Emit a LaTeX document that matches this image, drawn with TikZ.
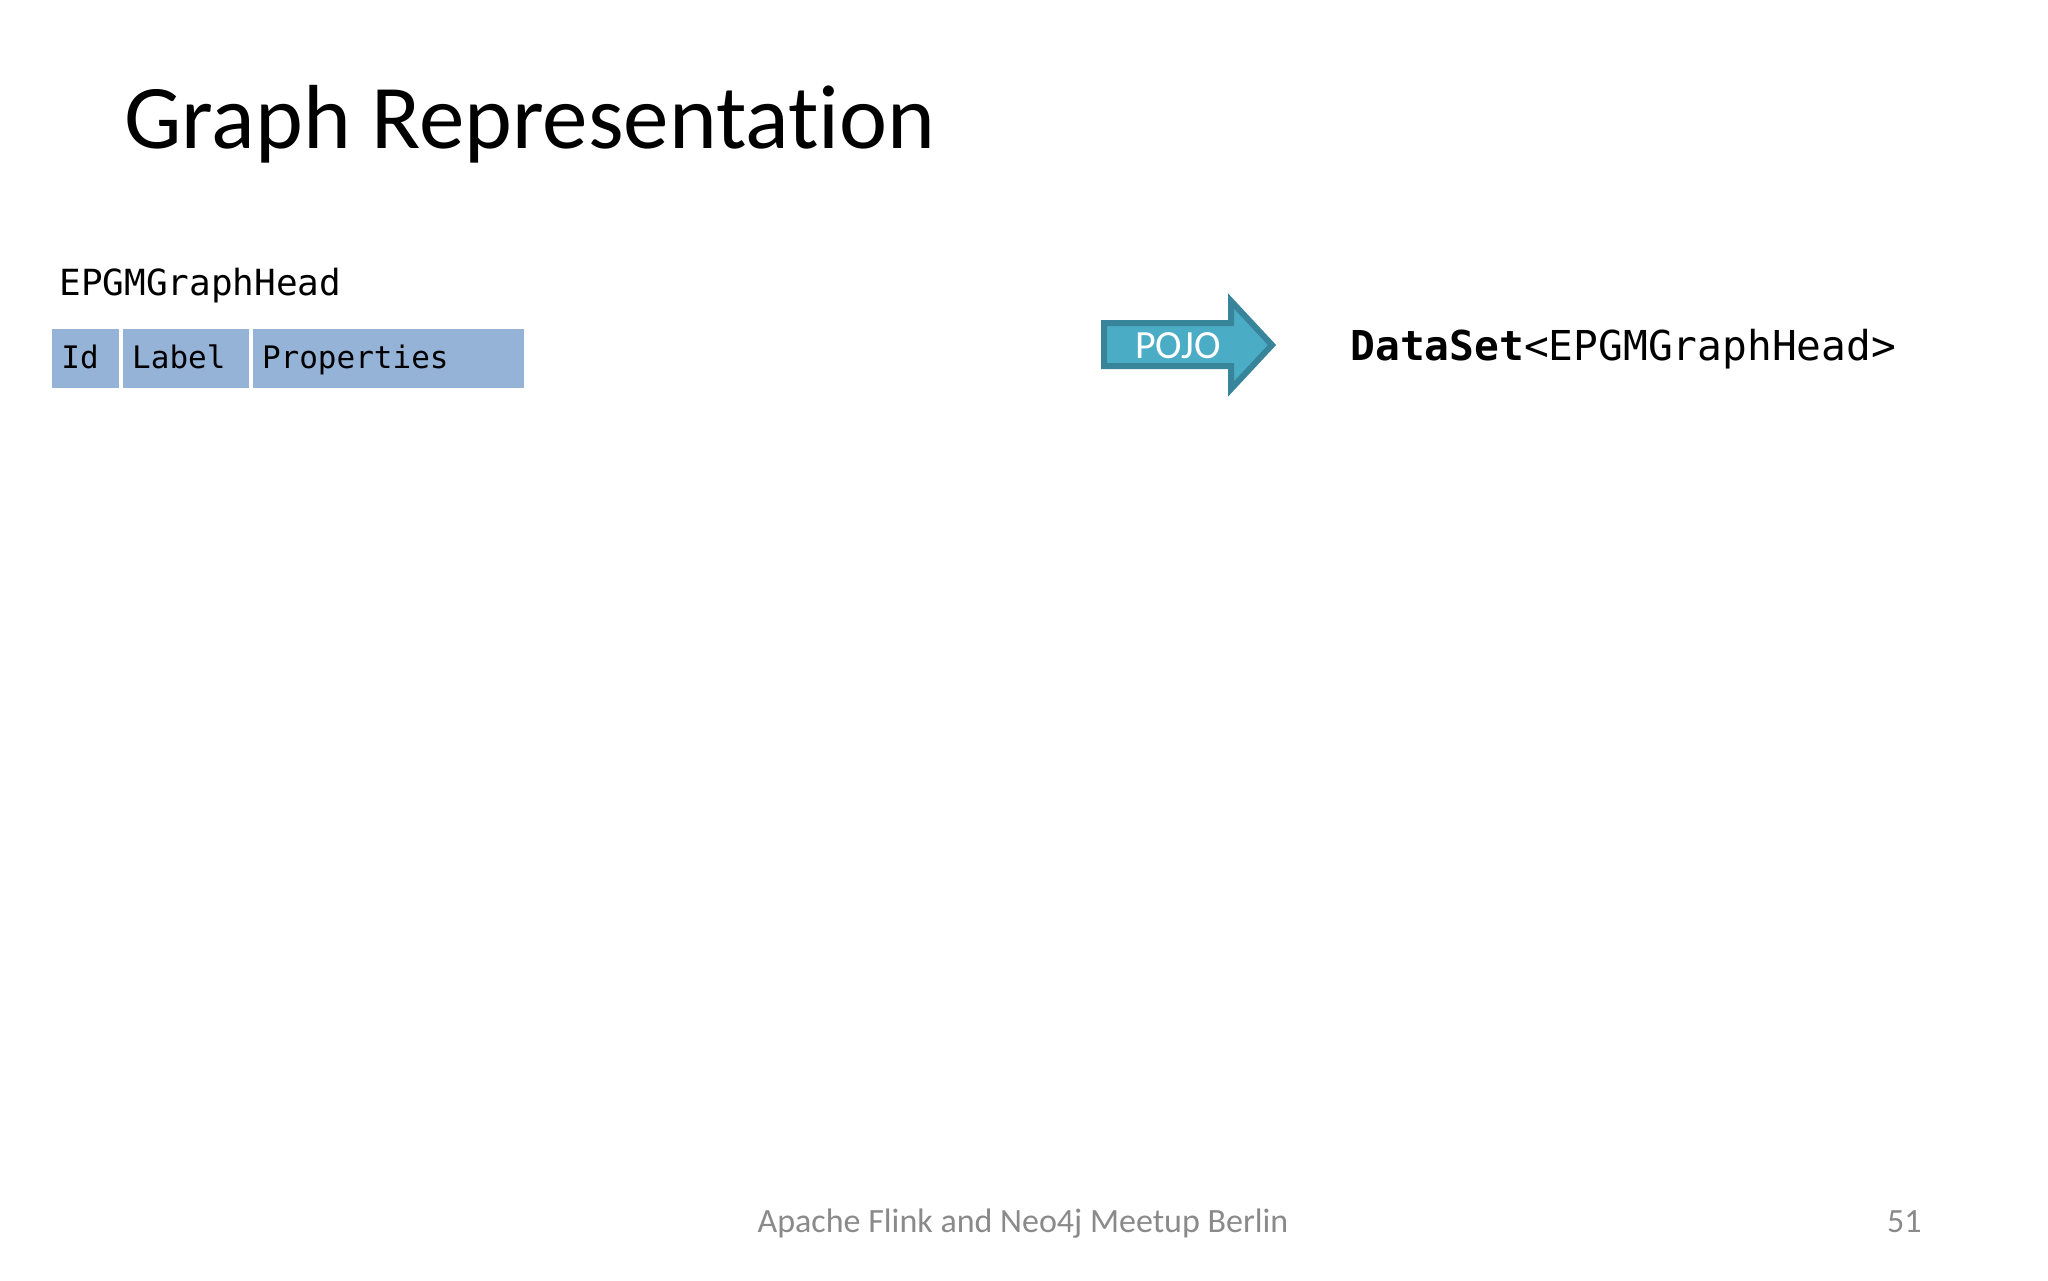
\documentclass[tikz,border=0pt]{standalone}
\usepackage{fontspec}
\setmainfont{Carlito}[Ligatures={NoCommon}]
\newfontfamily\codefont{DejaVu Sans Mono}
\usetikzlibrary{positioning}
\definecolor{headblue}{HTML}{95B3D7}
\definecolor{pojofill}{HTML}{4BACC6}
\definecolor{pojoline}{HTML}{38849A}
\definecolor{footgray}{HTML}{8A8A8A}
\tikzset{
  cell/.style={fill=headblue, minimum height=29.5pt, inner xsep=4.5pt, inner ysep=0pt,
    align=left, text height=14pt, text depth=4.5pt, font=\codefont\fontsize{15.5pt}{18pt}\selectfont},
  plain/.style={inner sep=0pt}
}
\begin{document}
\begin{tikzpicture}[x=0.5pt,y=-0.5pt]
            \useasboundingbox[fill=white] (0,0) rectangle (2048,1280);

            % title
            \node[plain, anchor=base west, font=\fontsize{45.5pt}{50pt}\selectfont] (title) at (124,148) {Graph Representation};

            % the graph head record
            \node[plain, anchor=base west, font=\codefont\fontsize{18pt}{20pt}\selectfont] (head) at (59,295) {EPGMGraphHead};
            \node[cell, anchor=north west, text width=24.5pt] (id) at (52,329) {Id};
            \node[cell, text width=54pt, right=1.5pt of id] (label) {Label};
            \node[cell, text width=126.5pt, right=1.5pt of label] (props) {Properties};

            % the arrow
            \draw[fill=pojofill, draw=pojoline, line width=3pt, line join=miter]
                (1104,323) -- (1231,323) -- (1231,301) -- (1272,345) -- (1231,389) -- (1231,366) -- (1104,366) -- cycle;
            \node[plain, text=white, font=\fontsize{20pt}{22pt}\selectfont] (pojo) at (1178,346) {POJO};

            % the dataset
            \node[plain, anchor=base west, font=\codefont\fontsize{20.6pt}{22pt}\selectfont] (dataset) at (1350,360)
                {{\bfseries DataSet}<EPGMGraphHead>};

            % footer
            \node[plain, anchor=base, text=footgray, font=\fontsize{17pt}{20pt}\selectfont] (footer) at (1023,1232) {Apache Flink and Neo4j Meetup Berlin};
            \node[plain, anchor=base east, text=footgray, font=\fontsize{17pt}{20pt}\selectfont] (page) at (1922,1232) {51};
        \end{tikzpicture}
\end{document}
